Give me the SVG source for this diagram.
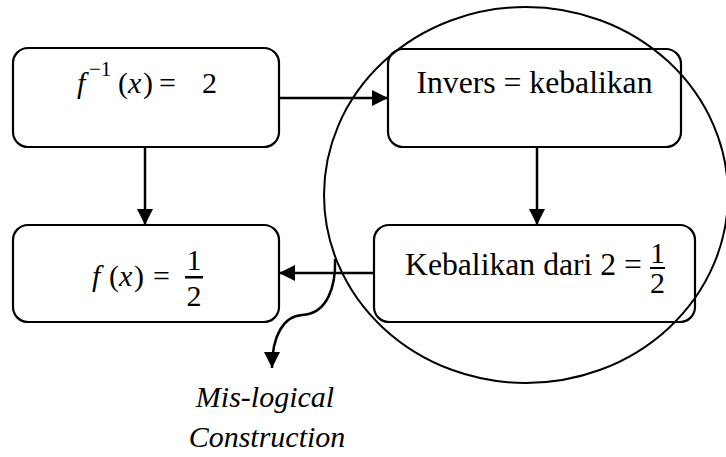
<svg xmlns="http://www.w3.org/2000/svg" width="726" height="457" viewBox="0 0 726 457">
<style>
.box{fill:#fff;stroke:#000;stroke-width:2.2}
.conn{fill:none;stroke:#000;stroke-width:2.5}
.t{font-family:'Liberation Serif','DejaVu Serif',serif;font-size:31.7px;fill:#000}
.m{font-family:'Liberation Serif','DejaVu Serif',serif;font-size:30px;fill:#000}
.i{font-style:italic}
.lbl{font-family:'Liberation Serif','DejaVu Serif',serif;font-size:30px;font-style:italic;fill:#000;text-anchor:middle}
</style>
<defs>
<marker id="ah" viewBox="0 0 16 16" refX="16" refY="8" markerWidth="16" markerHeight="16" markerUnits="userSpaceOnUse" orient="auto">
<path d="M0,0 L16,8 L0,16 Z" fill="#000"/>
</marker>
</defs>
<g id="node-finv">
<rect class="box" x="13" y="48" width="266" height="99" rx="15"/>
<text class="m" y="93"><tspan x="77" class="i">f</tspan><tspan x="89" y="76" font-size="21">−1</tspan><tspan x="118" y="93">(</tspan><tspan x="128" class="i">x</tspan><tspan x="143">)</tspan><tspan x="159">=</tspan><tspan x="202">2</tspan></text>
</g>
<g id="node-invers">
<rect class="box" x="388" y="49" width="293" height="98" rx="15"/>
<text class="t" x="534.5" y="93" text-anchor="middle">Invers = kebalikan</text>
</g>
<g id="node-fx">
<rect class="box" x="13" y="225" width="266" height="97" rx="15"/>
<text class="m" y="286"><tspan x="92" class="i">f</tspan><tspan x="109">(</tspan><tspan x="119" class="i">x</tspan><tspan x="134">)</tspan><tspan x="153">=</tspan></text>
<text class="m" x="194" y="270" text-anchor="middle">1</text>
<rect x="185" y="276" width="18" height="2.5" fill="#000"/>
<text class="m" x="194" y="306" text-anchor="middle">2</text>
</g>
<g id="node-kebalikan">
<rect class="box" x="374" y="225" width="321" height="97" rx="15"/>
<text class="t" x="405" y="275">Kebalikan dari 2 =</text>
<text class="m" x="657.5" y="263" font-size="20" text-anchor="middle">1</text>
<rect x="650" y="267" width="15" height="2" fill="#000"/>
<text class="m" x="657.5" y="293" font-size="20" text-anchor="middle">2</text>
</g>
<g id="highlight-circle">
<ellipse cx="526" cy="195" rx="202" ry="188" fill="none" stroke="#000" stroke-width="2"/>
</g>
<g id="connectors">
<line class="conn" x1="279" y1="98" x2="388" y2="98" marker-end="url(#ah)"/>
<line class="conn" x1="145" y1="147" x2="145" y2="225" marker-end="url(#ah)"/>
<line class="conn" x1="537" y1="147" x2="537" y2="225" marker-end="url(#ah)"/>
<line class="conn" x1="374" y1="273" x2="279" y2="273" marker-end="url(#ah)"/>
<path class="conn" d="M335,259 C336,285 328,314 302,315 C284,316 272,335 272,368" marker-end="url(#ah)"/>
</g>
<g id="label">
<text class="lbl" x="265" y="407">Mis-logical</text>
<text class="lbl" x="267" y="447">Construction</text>
</g>
</svg>
